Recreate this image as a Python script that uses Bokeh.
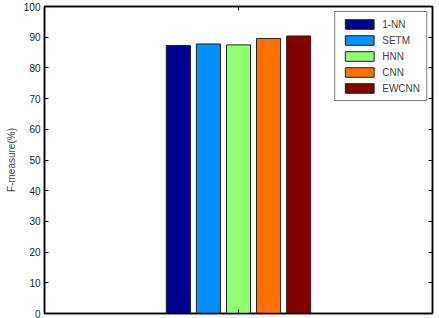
from bokeh.plotting import figure
from bokeh.models import ColumnDataSource, LinearAxis, FixedTicker, Legend, LegendItem
from bokeh.embed import file_html
from bokeh.resources import INLINE

methods = ["1-NN", "SETM", "HNN", "CNN", "EWCNN"]
fmeasure = [87.3, 87.8, 87.5, 89.6, 90.4]
colors = ["#00008F", "#0090FF", "#90FF70", "#FF7000", "#800000"]
y_ticks = [0, 10, 20, 30, 40, 50, 60, 70, 80, 90, 100]

group_center = 1.0
step = 0.0775
xs = [group_center + (i - 2) * step for i in range(len(methods))]

src = ColumnDataSource(dict(x=xs, top=fmeasure, name=methods, color=colors))

FONT = "Liberation Sans"

p = figure(width=439, height=318, x_range=(0.5, 1.5), y_range=(0, 100),
           output_backend="svg", toolbar_location=None,
           min_border_left=44, min_border_right=7, min_border_top=6, min_border_bottom=5,
           x_axis_location=None, y_axis_location=None)
p.xgrid.visible = False
p.ygrid.visible = False
p.outline_line_color = "black"
p.outline_line_width = 1.5
p.background_fill_color = "white"
p.border_fill_color = "white"

r = p.vbar(x="x", top="top", width=0.062, fill_color="color", line_color="#222222",
           line_width=1, source=src)

def mk_axis(ticks, labels=True):
    ax = LinearAxis(ticker=FixedTicker(ticks=ticks))
    ax.major_tick_in = 4
    ax.major_tick_out = 0
    ax.minor_tick_in = 0
    ax.minor_tick_out = 0
    ax.axis_line_color = "black"
    ax.axis_line_width = 1.5
    ax.major_tick_line_color = "black"
    if labels:
        ax.major_label_text_font = FONT
        ax.major_label_text_font_size = "10px"
        ax.major_label_text_color = "#222222"
        ax.major_label_standoff = 4
    else:
        ax.major_label_overrides = {t: "" for t in ticks}
        ax.major_label_standoff = 0
    return ax

yl = mk_axis(y_ticks)
yl.axis_label = "F-measure(%)"
yl.axis_label_text_font = FONT
yl.axis_label_text_font_size = "10px"
yl.axis_label_text_font_style = "normal"
yl.axis_label_standoff = 4
p.add_layout(yl, "left")
p.add_layout(mk_axis(y_ticks, labels=False), "right")
p.add_layout(mk_axis([1], labels=False), "below")
p.add_layout(mk_axis([1], labels=False), "above")

items = [LegendItem(label=m, renderers=[r], index=i) for i, m in enumerate(methods)]
leg = Legend(items=items, location="top_right")
leg.margin = 5
leg.padding = 6
leg.spacing = 4
leg.glyph_width = 36
leg.glyph_height = 12
leg.label_height = 12
leg.label_standoff = 5
leg.label_text_font = FONT
leg.label_text_font_size = "10px"
leg.border_line_color = "black"
leg.border_line_width = 1
leg.background_fill_alpha = 1
p.add_layout(leg)

open("out.html", "w").write(file_html(p, INLINE))
